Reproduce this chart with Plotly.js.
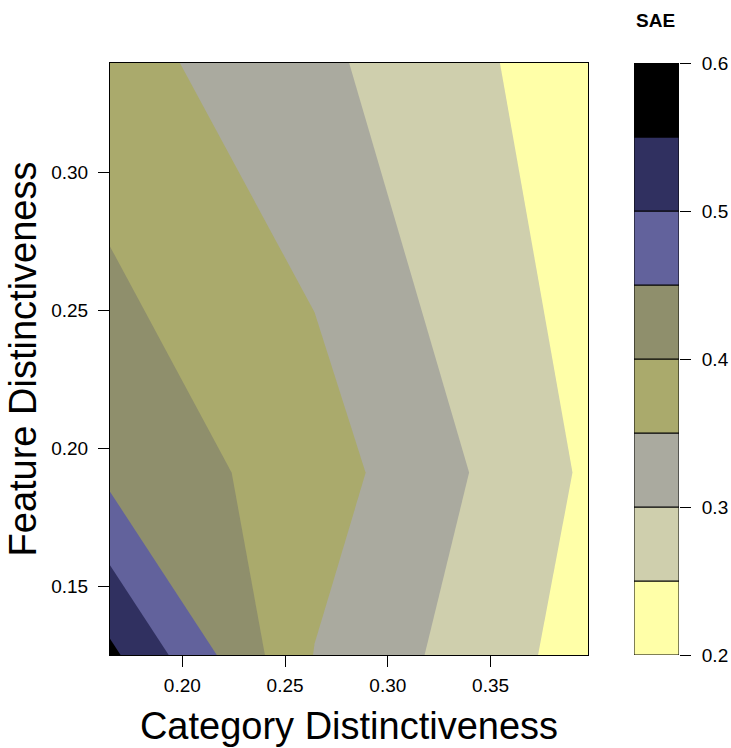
<!DOCTYPE html>
<html>
<head>
<meta charset="utf-8">
<script src="https://cdn.plot.ly/plotly-3.0.1.min.js"></script>
<style>html,body{margin:0;padding:0;background:#fff;}#chart{width:731px;height:748px;}</style>
</head>
<body>
<div id="chart"></div>
<script>
// Grid of the surface
const categoryDistinctiveness = [0.1648, 0.2643, 0.3974];
const featureDistinctiveness = [0.1252, 0.1913, 0.3397];
// SAE values, one row per featureDistinctiveness value
const saeRowLow = [0.561, 0.3485, 0.228];
const saeRowMid = [0.437, 0.3748, 0.2425];
const saeRowHigh = [0.370, 0.3115, 0.2208];

// Colour key
const levelStarts = [0.20, 0.25, 0.30, 0.35, 0.40, 0.45, 0.50, 0.55];
const levelWidth = [0.05, 0.05, 0.05, 0.05, 0.05, 0.05, 0.05, 0.05];
const bandColors = ['#FFFFA8', '#CFCFAD', '#AAAA9F', '#AAAA6C', '#8F8F6C', '#62629C', '#303060', '#000000'];

const xTicks = [0.20, 0.25, 0.30, 0.35];
const xTickText = ['0.20', '0.25', '0.30', '0.35'];
const yTicks = [0.15, 0.20, 0.25, 0.30];
const yTickText = ['0.15', '0.20', '0.25', '0.30'];
const keyTicks = [0.2, 0.3, 0.4, 0.5, 0.6];
const keyTickText = ['0.2', '0.3', '0.4', '0.5', '0.6'];

// Stepped colour scale: Plotly evaluates the fill of each band at its middle
const slotColors = [bandColors[0]].concat(bandColors, [bandColors[bandColors.length - 1]]);
const nSlots = slotColors.length; // 10
const colorscale = [];
for (let k = 0; k < nSlots; k++) {
  const lo = k === 0 ? 0 : (k - 0.5) / (nSlots - 1);
  const hi = k === nSlots - 1 ? 1 : (k + 0.5) / (nSlots - 1);
  colorscale.push([lo, slotColors[k]]);
  colorscale.push([hi, slotColors[k]]);
}

const FONT = 'Liberation Sans, Arial, Helvetica, sans-serif';

const contour = {
  type: 'contour',
  x: categoryDistinctiveness,
  y: featureDistinctiveness,
  z: [saeRowLow, saeRowMid, saeRowHigh],
  autocontour: false,
  contours: {start: 0.2, end: 0.6, size: 0.05, coloring: 'fill', showlines: false},
  line: {width: 0, smoothing: 0},
  colorscale: colorscale,
  showscale: false,
  hoverinfo: 'x+y+z',
  xaxis: 'x', yaxis: 'y'
};

const key = {
  type: 'bar',
  x: levelStarts.map(() => 0),
  y: levelWidth,
  base: levelStarts,
  width: 1,
  marker: {color: bandColors, line: {color: '#000', width: 1}},
  xaxis: 'x2', yaxis: 'y2',
  showlegend: false,
  hoverinfo: 'skip'
};

const W = 731, H = 748;
const mL = 110, mR = 40, mT = 63, mB = 93;
const pw = W - mL - mR;
const px = v => (v - mL) / pw;

const layout = {
  width: W, height: H,
  margin: {l: mL, r: mR, t: mT, b: mB, pad: 0},
  paper_bgcolor: '#fff',
  plot_bgcolor: '#fff',
  font: {family: FONT, color: '#000', size: 19},
  showlegend: false,
  barmode: 'overlay',
  xaxis: {
    domain: [0, px(588)],
    range: [categoryDistinctiveness[0], categoryDistinctiveness[2]],
    tickvals: xTicks, ticktext: xTickText,
    ticks: 'outside', ticklen: 11, tickwidth: 1, tickcolor: '#000',
    ticklabelstandoff: 2,
    showline: true, mirror: true, linecolor: '#000', linewidth: 1,
    showgrid: false, zeroline: false,
    tickfont: {size: 19, family: FONT},
    title: {text: 'Category Distinctiveness', font: {size: 38, family: FONT}, standoff: 17},
    automargin: false,
    fixedrange: true
  },
  yaxis: {
    domain: [0, 1],
    range: [featureDistinctiveness[0], featureDistinctiveness[2]],
    tickvals: yTicks, ticktext: yTickText,
    ticks: 'outside', ticklen: 11, tickwidth: 1, tickcolor: '#000',
    ticklabelstandoff: 6,
    showline: true, mirror: true, linecolor: '#000', linewidth: 1,
    showgrid: false, zeroline: false,
    tickfont: {size: 19, family: FONT},
    title: {text: 'Feature Distinctiveness', font: {size: 38, family: FONT}, standoff: 2},
    automargin: false,
    fixedrange: true
  },
  xaxis2: {
    domain: [px(634), px(679)],
    range: [-0.5, 0.5],
    visible: false,
    anchor: 'y2',
    fixedrange: true
  },
  yaxis2: {
    domain: [0, 1],
    anchor: 'x2',
    side: 'right',
    range: [0.2, 0.6],
    tickvals: keyTicks, ticktext: keyTickText,
    ticks: 'outside', ticklen: 11, tickwidth: 1, tickcolor: '#000',
    ticklabelstandoff: 7,
    showline: false, showgrid: false, zeroline: false,
    tickfont: {size: 19, family: FONT},
    automargin: false,
    fixedrange: true
  },
  annotations: [{
    text: '<b>SAE</b>',
    xref: 'paper', yref: 'paper',
    x: px(655), y: 1 + (63 - 21) / (H - mT - mB),
    xanchor: 'center', yanchor: 'middle',
    showarrow: false,
    font: {size: 19, family: FONT, color: '#000'}
  }]
};

Plotly.newPlot('chart', [contour, key], layout, {displayModeBar: false, staticPlot: true});
</script>
</body>
</html>
